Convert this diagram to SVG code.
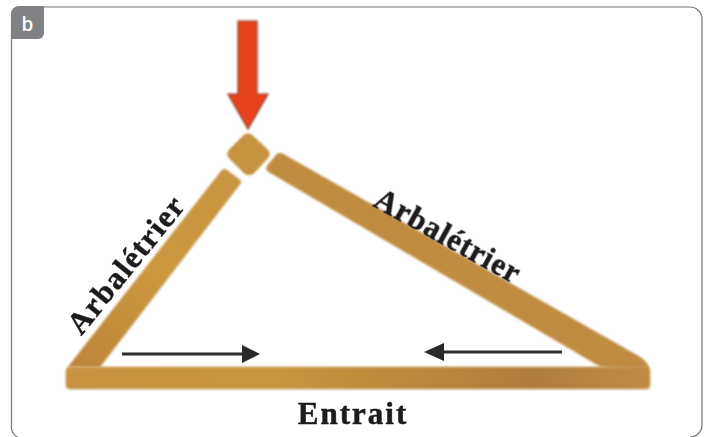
<svg xmlns="http://www.w3.org/2000/svg" width="710" height="437" viewBox="0 0 710 437">
<style>
.lbl{font-family:"Liberation Serif","Times New Roman",serif;font-weight:700;fill:#1c1a1a;stroke:#1c1a1a;stroke-width:.5}
.wood{stroke:#c9a060;stroke-width:.8;stroke-linejoin:round}
</style>
<defs>
<linearGradient id="w1" x1="0" y1="0" x2="1" y2="0"><stop offset="0" stop-color="#c8923f"/><stop offset=".35" stop-color="#c9963f"/><stop offset=".8" stop-color="#b07c3e"/><stop offset="1" stop-color="#c08c45"/></linearGradient>
<linearGradient id="w2" gradientUnits="userSpaceOnUse" x1="70" y1="360" x2="235" y2="175"><stop offset="0" stop-color="#bd863a"/><stop offset=".5" stop-color="#cc983f"/><stop offset="1" stop-color="#c8963f"/></linearGradient>
<filter id="soft" x="-5%" y="-5%" width="110%" height="110%"><feGaussianBlur stdDeviation="1"/></filter>
<filter id="softer" x="-5%" y="-5%" width="110%" height="110%"><feGaussianBlur stdDeviation=".5"/></filter>
</defs>
<rect x="0" y="0" width="710" height="437" fill="#fff"/>
<path id="frame" d="M11.500 425V19a12 12 0 0 1 12-12H690a12 12 0 0 1 12 12V425a12 12 0 0 1-12 12" fill="none" stroke="#77787b" stroke-width="1.200"/>
<path d="M11.500 425a12 12 0 0 0 6 12" fill="none" stroke="#77787b" stroke-width="1.200"/>
<g id="badge"><path d="M11 39V14a8 8 0 0 1 8-8H44V33a6 6 0 0 1-6 6Z" fill="#808184"/><text x="27.500" y="31" text-anchor="middle" font-family="'Open Sans','Noto Sans',sans-serif" font-weight="600" font-size="19" fill="#fff">b</text></g>
<g id="force-arrow" filter="url(#soft)"><path d="M238 21H257V94H268L248 129L228 94H238Z" fill="#e8431f" stroke="#7a3a2a" stroke-width="1.200"/></g>
<g id="node-knob" filter="url(#soft)"><path d="M244 135Q248 132 252 135L268 150Q271 154 268 158L254 173Q249 177 244 173L229 158Q226 154 229 150Z" fill="#c6933f" class="wood"/></g>
<g id="arbaletrier-left" filter="url(#soft)"><path d="M222 170Q225 168 228 171L240 180Q242 182 240 184L100 367H68Z" fill="url(#w2)" class="wood"/></g>
<g id="arbaletrier-right" filter="url(#soft)"><path d="M277 154Q280 152 283 154L640 357Q649 363 649 370L601 367L269 172Q265 170 267 166Z" fill="#bf8c42" class="wood"/></g>
<g id="entrait" filter="url(#soft)"><rect x="66" y="367" width="584" height="22" rx="4" fill="url(#w1)" class="wood"/></g>
<g id="connectors" filter="url(#softer)">
<path d="M122 354H244" stroke="#2f2f30" stroke-width="3" fill="none"/><path d="M242 345L260 354L242 363Z" fill="#2a2a2b"/>
<path d="M562 352H442" stroke="#2f2f30" stroke-width="3" fill="none"/><path d="M444 343L424 352L444 361Z" fill="#2a2a2b"/>
</g>
<g id="labels" filter="url(#softer)">
<text class="lbl" font-size="31" text-anchor="middle" letter-spacing="1.500" transform="translate(134,271) rotate(-51)">Arbalétrier</text>
<text class="lbl" font-size="31" text-anchor="middle" letter-spacing="1" transform="translate(443,245) rotate(29)">Arbalétrier</text>
<text class="lbl" font-size="31" text-anchor="middle" letter-spacing="2" x="353" y="424">Entrait</text>
</g>
</svg>
